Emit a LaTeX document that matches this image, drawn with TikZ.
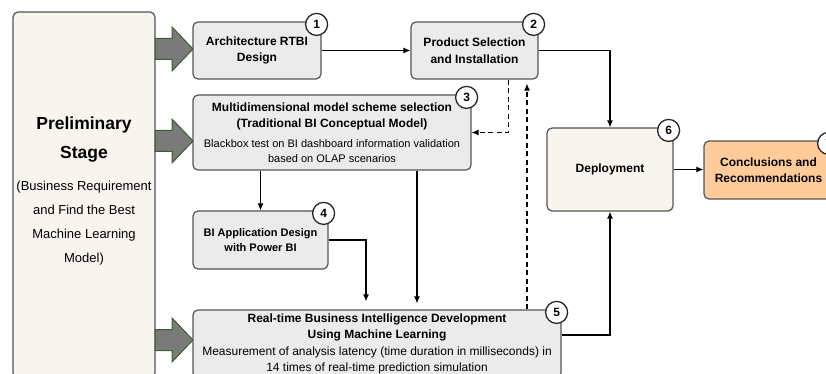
\documentclass[tikz,border=0pt]{standalone}
\usepackage{fontspec}
\setmainfont{Liberation Sans}
\usetikzlibrary{arrows.meta}

\definecolor{boxgray}{HTML}{EBEBEB}
\definecolor{boxline}{HTML}{555555}
\definecolor{cream}{HTML}{F7F5EE}
\definecolor{peach}{HTML}{FFCC99}
\definecolor{arrowgray}{HTML}{7A7A7A}
\definecolor{arrowline}{HTML}{3D5C32}

\tikzset{
  stagebox/.style={draw=boxline, line width=1.2pt, rounded corners=5pt, fill=boxgray,
    align=center, inner sep=2pt, font=\fontsize{12}{16.5}\selectfont\bfseries},
  badge/.style={circle, draw=black!85, line width=1.3pt, fill=white, minimum size=22pt,
    inner sep=0pt, font=\fontsize{12}{12}\selectfont\bfseries},
  bigarrow/.style={draw=arrowline, line width=1pt, fill=arrowgray},
  flow/.style={-{Latex[length=7pt,width=6pt]}, line width=1.1pt},
  backflow/.style={flow, dash pattern=on 5pt off 3.5pt},
}

% big gray arrow ending at the given tip
\newcommand{\stagearrow}[1]{%
  \draw[bigarrow, shift={(#1)}] (-38,-10.5) -- (-21,-10.5) -- (-21,-22) -- (0,0)
    -- (-21,22) -- (-21,10.5) -- (-38,10.5) -- cycle;}

\begin{document}
\begin{tikzpicture}[x=1pt, y=-1pt]
  \useasboundingbox (0,0) rectangle (826,374);

  % preliminary stage
  \node[stagebox, fill=cream, minimum width=142pt, minimum height=366pt] (pre) at (84,195) {};
  \node[align=center, font=\fontsize{13}{24}\selectfont] (pretext) at (84,191)
    {\textbf{\fontsize{17.5}{24}\selectfont Preliminary}\\[5pt]
     \textbf{\fontsize{17.5}{24}\selectfont Stage}\\[8pt]
     (Business Requirement\\ and Find the Best\\ Machine Learning\\ Model)};

  % stages
  \node[stagebox, minimum width=128pt, minimum height=57pt] (b1) at (257,50.5)
    {Architecture RTBI\\ Design};
  \node[stagebox, minimum width=127pt, minimum height=57pt] (b2) at (474.5,50.5)
    {Product Selection\\ and Installation};
  \node[stagebox, minimum width=278pt, minimum height=75pt] (b3) at (332,132.5)
    {Multidimensional model scheme selection\\[-0.5pt]
     (Traditional BI Conceptual Model)\\[3pt]
     {\mdseries\fontsize{11}{15}\selectfont Blackbox test on BI dashboard information validation}\\[-1.5pt]
     {\mdseries\fontsize{11}{15}\selectfont based on OLAP scenarios}};
  \node[stagebox, minimum width=135pt, minimum height=58pt,
    font=\fontsize{11}{14.5}\selectfont\bfseries] (b4) at (260.5,240)
    {BI Application Design\\ with Power BI};
  \node[stagebox, minimum width=368pt, minimum height=68pt] (b5) at (377,344)
    {Real-time Business Intelligence Development\\[-0.5pt]
     Using Machine Learning\\[0.5pt]
     {\mdseries\fontsize{12}{15}\selectfont Measurement of analysis latency (time duration in milliseconds) in}\\[-1pt]
     {\mdseries\fontsize{12}{15}\selectfont 14 times of real-time prediction simulation}};
  \node[stagebox, fill=cream, minimum width=126pt, minimum height=83pt] (b6) at (610,169.5)
    {Deployment};
  \node[stagebox, fill=peach, minimum width=129pt, minimum height=58pt] (b7) at (768.5,170)
    {Conclusions and\\ Recommendations};

  % numbers
  \node[badge] (n1) at ([xshift=-5pt,yshift=-3pt]b1.north east) {1};
  \node[badge] (n2) at ([xshift=-5pt,yshift=-3pt]b2.north east) {2};
  \node[badge] (n3) at ([xshift=-5pt,yshift=-3pt]b3.north east) {3};
  \node[badge] (n4) at ([xshift=-5pt,yshift=-3pt]b4.north east) {4};
  \node[badge] (n5) at ([xshift=-5pt,yshift=-3pt]b5.north east) {5};
  \node[badge] (n6) at ([xshift=-5pt,yshift=-3pt]b6.north east) {6};
  \node[badge] (n7) at ([xshift=-5pt,yshift=-3pt]b7.north east) {7};

  % big arrows
  \coordinate (t1) at (193,49);
  \coordinate (t3) at (193,141);
  \coordinate (t5) at (193,340);
  \stagearrow{t1}
  \stagearrow{t3}
  \stagearrow{t5}

  % connectors
  \draw[flow] (b1.east) -- (b1.east -| b2.west);
  \draw[flow] (b2.east) -| (b6.north);
  \draw[backflow] ([xshift=34pt]b2.south) |- (b3.east);
  \draw[backflow] ([xshift=150pt]b5.north) -- ([xshift=150pt,yshift=-4pt]b5.north |- b2.south);
  \draw[flow] (b3.south -| b4.north) -- (b4.north);
  \draw[flow, shorten >=6pt] ([xshift=85pt]b3.south) -- ([xshift=85pt]b3.south |- b5.north);
  \draw[flow, shorten >=8pt] (b4.east) -| ([xshift=-11pt]b5.north);
  \coordinate (c5) at ([yshift=9pt]b5.east);
  \draw[flow] (c5) -| (b6.south);
  \draw[flow] (b6.east) -- (b6.east -| b7.west);
\end{tikzpicture}
\end{document}
